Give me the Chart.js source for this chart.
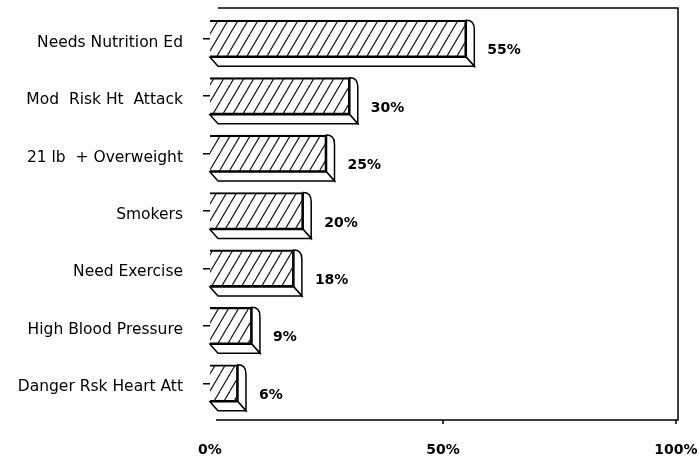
<!DOCTYPE html>
<html>
<head>
<meta charset="utf-8">
<script src="https://cdn.jsdelivr.net/npm/chart.js@4.4.1/dist/chart.umd.min.js"></script>
<style>
  html, body { margin: 0; padding: 0; background: #fff; }
  canvas { display: block; }
</style>
</head>
<body>
<canvas id="riskChart" width="700" height="457"></canvas>
<script>
// Chart data
const categories = [
    'Needs Nutrition Ed',
    'Mod  Risk Ht  Attack',
    '21 lb  + Overweight',
    'Smokers',
    'Need Exercise',
    'High Blood Pressure',
    'Danger Rsk Heart Att'
];
const percentValues = [55, 30, 25, 20, 18, 9, 6];
const xTickValues = [0, 50, 100];

// diagonal hatch used for the bar faces
function makeHatch() {
    const w = 10, h = 17;
    const c = document.createElement('canvas');
    c.width = w;
    c.height = h;
    const g = c.getContext('2d');
    g.strokeStyle = '#1a1a1a';
    g.lineWidth = 1.2;
    for (let k = -1; k <= 1; k++) {
        g.beginPath();
        g.moveTo(k * w, h);
        g.lineTo(k * w + w, 0);
        g.stroke();
    }
    return g.createPattern(c, 'repeat');
}

// frame + 3D slab + value labels
const decorPlugin = {
    id: 'decor',
    afterDatasetsDraw(chart) {
        const ctx = chart.ctx;
        const area = chart.chartArea;
        const xScale = chart.scales.x;
        const frameTop = area.top - 2;
        const frameBottom = area.bottom + 8;
        const frameRight = area.right + 2;
        const dx = 8, dy = 9;

        ctx.save();
        ctx.strokeStyle = '#000';
        ctx.lineWidth = 1.5;

        // bar depth: right side and bottom slab
        const meta = chart.getDatasetMeta(0);
        meta.data.forEach(function(bar, i) {
            const x0 = bar.base;
            const x1 = bar.x;
            const top = bar.y - bar.height / 2;
            const bot = bar.y + bar.height / 2;

            ctx.fillStyle = '#fff';
            ctx.beginPath();
            ctx.moveTo(x1, top);
            ctx.quadraticCurveTo(x1 + dx, top, x1 + dx, top + dy);
            ctx.lineTo(x1 + dx, bot + dy);
            ctx.lineTo(x1, bot);
            ctx.closePath();
            ctx.fill();
            ctx.stroke();

            ctx.beginPath();
            ctx.moveTo(x0, bot);
            ctx.lineTo(x1, bot);
            ctx.lineTo(x1 + dx, bot + dy);
            ctx.lineTo(x0 + dx, bot + dy);
            ctx.closePath();
            ctx.fill();
            ctx.stroke();

            ctx.fillStyle = '#000';
            ctx.font = 'bold 14px "DejaVu Sans"';
            ctx.textAlign = 'left';
            ctx.textBaseline = 'middle';
            ctx.fillText(percentValues[i] + '%', x1 + 21, bar.y + 12);
        });

        // plot frame (top, right, bottom)
        ctx.beginPath();
        ctx.moveTo(area.left + 8, frameTop);
        ctx.lineTo(frameRight, frameTop);
        ctx.lineTo(frameRight, frameBottom);
        ctx.lineTo(area.left + 6, frameBottom);
        ctx.stroke();

        // small tick marks on the bottom edge
        xTickValues.slice(1).forEach(function(v) {
            const px = Math.min(xScale.getPixelForValue(v), frameRight);
            ctx.beginPath();
            ctx.moveTo(px, frameBottom);
            ctx.lineTo(px, frameBottom + 4);
            ctx.stroke();
        });
        ctx.restore();
    }
};

const ctx = document.getElementById('riskChart').getContext('2d');
const riskChart = new Chart(ctx, {
    type: 'bar',
    data: {
        labels: categories,
        datasets: [{
            data: percentValues,
            backgroundColor: makeHatch(),
            borderColor: '#000',
            borderWidth: 1.5,
            barThickness: 37
        }]
    },
    options: {
        indexAxis: 'y',
        responsive: false,
        animation: false,
        devicePixelRatio: 1,
        layout: {
            padding: { top: 10, right: 24, bottom: 0, left: 0 }
        },
        plugins: {
            legend: { display: false },
            tooltip: { enabled: false }
        },
        scales: {
            x: {
                min: 0,
                max: 100,
                afterBuildTicks: function(scale) {
                    scale.ticks = xTickValues.map(function(v) { return { value: v }; });
                },
                afterFit: function(scale) {
                    scale.height = 45;
                    scale.paddingLeft = 0;
                    scale.paddingRight = 0;
                },
                grid: { display: false, drawTicks: false },
                border: { display: false },
                ticks: {
                    padding: 30,
                    color: '#000',
                    font: { family: 'DejaVu Sans', size: 14, weight: 'bold' },
                    maxRotation: 0,
                    callback: function(value) { return value + '%'; }
                }
            },
            y: {
                afterFit: function(scale) {
                    scale.width = 210;
                    scale.paddingTop = 0;
                    scale.paddingBottom = 0;
                },
                grid: {
                    drawOnChartArea: false,
                    drawTicks: true,
                    tickLength: 7,
                    offset: false,
                    color: '#000',
                    lineWidth: 1.5
                },
                border: { display: false },
                ticks: {
                    padding: 20,
                    labelOffset: 4,
                    color: '#000',
                    font: { family: 'DejaVu Sans', size: 15.5 }
                }
            }
        }
    },
    plugins: [decorPlugin]
});
</script>
</body>
</html>
